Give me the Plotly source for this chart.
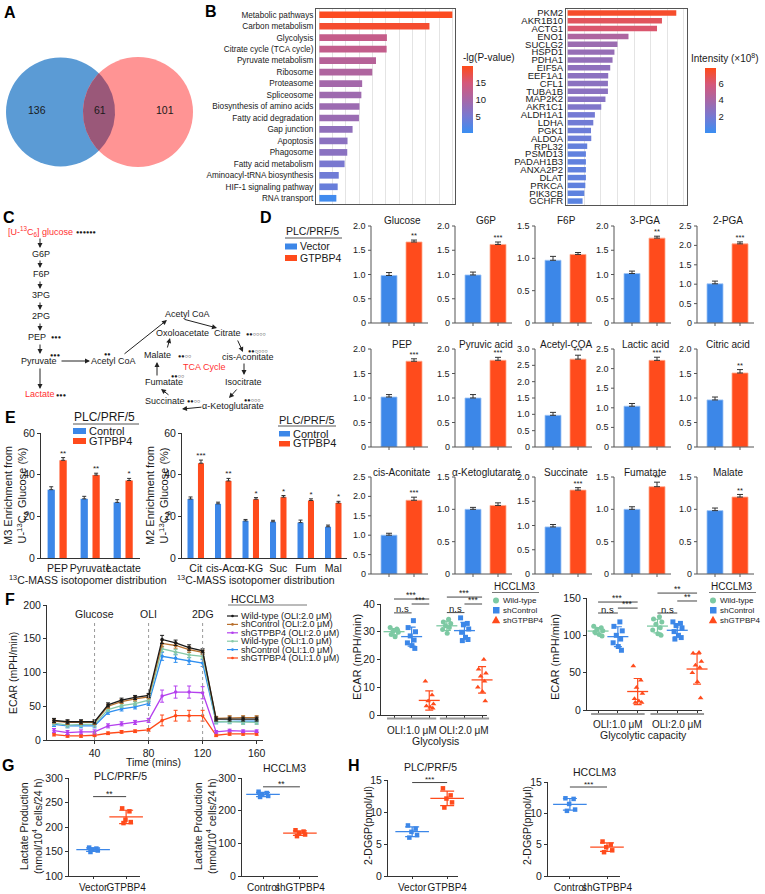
import math
import numpy as np
import plotly.graph_objects as go

W, H = 765, 894
FONT = "Liberation Sans, Arial, Helvetica, sans-serif"
BLUE = "#3c87e8"
RED = "#ff4b1c"
GREEN = "#7dc9a3"
AXC = "#333333"
TXT = "#1a1a1a"

# ---------------- DATA ----------------
venn_counts = [136, 61, 101]  # left only, shared, right only

kegg_terms = ["Metabolic pathways", "Carbon metabolism", "Glycolysis", "Citrate cycle (TCA cycle)",
              "Pyruvate metabolism", "Ribosome", "Proteasome", "Spliceosome",
              "Biosynthesis of amino acids", "Fatty acid degradation", "Gap junction", "Apoptosis",
              "Phagosome", "Fatty acid metabolism", "Aminoacyl-tRNA biosynthesis",
              "HIF-1 signaling pathway", "RNA transport"]
kegg_counts = [50, 41.4, 25.4, 25.3, 21.3, 19.9, 16.1, 15.8, 15.1, 14.9, 12.5, 10.6, 10.5, 9.5, 7.3, 6.9, 6.4]
kegg_lgp = [19.6, 18.8, 13.2, 13.0, 11.6, 10.8, 9.6, 9.0, 8.8, 8.6, 7.6, 7.0, 6.9, 5.2, 4.4, 3.8, 0.6]

prot_genes = ["PKM2", "AKR1B10", "ACTG1", "ENO1", "SUCLG2", "HSPD1", "PDHA1", "EIF5A", "EEF1A1", "CFL1",
              "TUBA1B", "MAP2K2", "AKR1C1", "ALDH1A1", "LDHA", "PGK1", "ALDOA", "RPL32", "PSMD13",
              "PADAH1B3", "ANXA2P2", "DLAT", "PRKCA", "PIK3CB", "GCHFR"]
prot_intensity = [7.50, 6.51, 6.17, 4.20, 3.44, 3.23, 3.10, 2.94, 2.80, 2.78, 2.78, 2.61, 2.32, 1.88, 1.77,
                  1.61, 1.63, 1.35, 1.26, 1.26, 1.26, 1.26, 1.22, 1.15, 1.03]

d_names = ["Glucose", "G6P", "F6P", "3-PGA", "2-PGA", "PEP", "Pyruvic acid", "Acetyl-COA", "Lactic acid",
           "Citric acid", "cis-Aconitate", "α-Ketoglutarate", "Succinate", "Fumatate", "Malate"]
d_vector = [0.98, 0.99, 0.97, 1.02, 1.01, 1.02, 1.00, 0.97, 1.04, 0.96, 1.00, 1.00, 0.97, 1.00, 0.98]
d_vector_sd = [0.06, 0.06, 0.06, 0.05, 0.07, 0.05, 0.07, 0.09, 0.07, 0.06, 0.05, 0.03, 0.05, 0.04, 0.04]
d_gtpbp4 = [1.67, 1.62, 1.06, 1.75, 2.04, 1.75, 1.77, 2.69, 2.21, 1.51, 1.90, 1.06, 1.73, 1.35, 1.19]
d_gtpbp4_sd = [0.04, 0.05, 0.03, 0.04, 0.05, 0.05, 0.06, 0.12, 0.08, 0.07, 0.08, 0.04, 0.05, 0.07, 0.04]
d_sig = ["**", "***", "", "**", "***", "***", "***", "***", "***", "**", "***", "", "***", "**", "**"]
d_ytop = [2.0, 2.0, 1.5, 2.0, 2.5, 2.0, 2.0, 3.0, 2.5, 2.0, 2.5, 1.5, 2.0, 1.5, 1.5]

e_m3_cats = ["PEP", "Pyruvate", "Lactate"]
e_m3_ctrl = [32.8, 28.4, 26.7]
e_m3_ctrl_sd = [1.4, 1.2, 1.3]
e_m3_gtp = [46.9, 39.8, 37.2]
e_m3_gtp_sd = [1.3, 0.9, 1.0]
e_m3_sig = ["**", "**", "*"]
e_m2_cats = ["Cit", "cis-Aco", "α-KG", "Suc", "Fum", "Mal"]
e_m2_ctrl = [28.3, 26.0, 17.8, 17.4, 17.0, 15.0]
e_m2_ctrl_sd = [1.0, 0.8, 0.7, 0.7, 1.2, 0.8]
e_m2_gtp = [45.5, 37.0, 28.2, 29.2, 27.6, 26.4]
e_m2_gtp_sd = [1.5, 1.2, 0.8, 0.8, 0.8, 0.8]
e_m2_sig = ["***", "**", "*", "*", "*", "*"]

f_time = [10, 20, 30, 40, 50, 60, 70, 80, 90, 100, 110, 120, 130, 140, 150, 160]
f_labels = ["Wild-type (OLI:2.0 μM)", "shControl (OLI:2.0 μM)", "shGTPBP4 (OLI:2.0 μM)",
            "Wild-type (OLI:1.0 μM)", "shControl (OLI:1.0 μM)", "shGTPBP4 (OLI:1.0 μM)"]
f_wt2 = [29, 27, 27, 27, 52, 59, 63, 66, 149, 144, 137, 132, 31, 31, 31, 31]
f_wt2_sd = [3, 3, 3, 3, 3, 3, 3, 3, 6, 4, 4, 3, 3, 3, 3, 3]
f_shc2 = [28, 26, 26, 26, 50, 57, 61, 64, 143, 140, 134, 130, 32, 33, 33, 33]
f_shc2_sd = [3, 3, 3, 3, 3, 3, 3, 3, 5, 4, 4, 3, 3, 3, 3, 3]
f_shg2 = [14, 11, 12, 12, 21, 24, 26, 29, 65, 71, 71, 70, 12, 14, 13, 13]
f_shg2_sd = [3, 3, 3, 3, 3, 3, 3, 3, 9, 9, 9, 9, 2, 2, 2, 2]
f_wt1 = [25, 22, 23, 23, 45, 51, 54, 59, 135, 130, 126, 124, 27, 27, 26, 26]
f_wt1_sd = [3, 3, 3, 3, 3, 3, 3, 3, 4, 4, 4, 3, 3, 3, 3, 3]
f_shc1 = [23, 21, 21, 21, 41, 46, 49, 54, 124, 121, 117, 114, 27, 28, 28, 28]
f_shc1_sd = [3, 3, 3, 3, 3, 3, 3, 3, 6, 6, 5, 5, 3, 3, 3, 3]
f_shg1 = [8, 6, 6, 7, 10, 12, 13, 15, 29, 36, 36, 36, 7, 9, 9, 9]
f_shg1_sd = [2, 2, 2, 2, 2, 2, 2, 2, 8, 8, 8, 8, 2, 2, 2, 2]

dot_groups = ["Wild-type", "shControl", "shGTPBP4"]
dot_conditions = ["OLI:1.0 μM", "OLI:2.0 μM"]
gly_wt_1 = [31.5, 31.0, 30.2, 29.8, 29.0, 28.2, 30.5]
gly_shc_1 = [34.0, 31.5, 30.0, 28.5, 27.0, 26.0, 25.0, 24.0]
gly_shg_1 = [12.2, 7.2, 5.0, 4.0, 3.2, 2.8, 2.4]
gly_wt_2 = [34.5, 33.5, 33.0, 32.2, 31.5, 30.8, 29.5]
gly_shc_2 = [35.0, 33.0, 32.5, 31.0, 29.8, 28.0, 27.2, 26.8]
gly_shg_2 = [20.0, 16.5, 15.0, 14.0, 12.2, 10.0, 8.5, 5.0]
cap_wt_1 = [112, 110, 108, 106, 104, 101, 99]
cap_shc_1 = [118, 112, 106, 100, 95, 90, 85, 80]
cap_shg_1 = [59, 40, 30, 22, 15, 12, 10, 10]
cap_wt_2 = [125, 122, 118, 115, 110, 107, 102, 100]
cap_shc_2 = [118, 116, 113, 110, 105, 100, 97, 95]
cap_shg_2 = [77, 76, 65, 60, 57, 50, 38, 16]

g_plc_vector = [158, 156, 154, 152, 149]
g_plc_gtpbp4 = [238, 232, 215, 210, 208]
g_hcc_control = [258, 254, 249, 245, 242]
g_hcc_sh = [140, 136, 131, 127, 122]
h_plc_vector = [7.9, 7.4, 6.9, 6.4, 6.0]
h_plc_gtpbp4 = [13.7, 12.6, 12.1, 11.5, 10.7]
h_hcc_control = [12.4, 12.3, 11.5, 10.6, 10.4]
h_hcc_sh = [5.5, 5.0, 4.6, 4.1, 3.8]

# ---------------- HELPERS ----------------
fig = go.Figure()
LAYOUT, ANN, SHP = {}, [], []


def T(x, y, text, size=9, color=TXT, xa="center", ya="middle", angle=0, bold=False):
    if bold:
        text = f"<b>{text}</b>"
    ANN.append(dict(x=x / W, y=1 - y / H, xref="paper", yref="paper", text=text, showarrow=False,
                    xanchor=xa, yanchor=ya, textangle=angle, borderpad=0,
                    font=dict(size=size, color=color, family=FONT)))


def ARR(x0, y0, x1, y1, w=1.0):
    ANN.append(dict(x=x1 / W, y=1 - y1 / H, xref="paper", yref="paper", ax=x0 - x1, ay=y0 - y1,
                    axref="pixel", ayref="pixel", text="", showarrow=True, arrowhead=2,
                    arrowsize=1, arrowwidth=w, arrowcolor="#222", standoff=0))


def LINE(x0, y0, x1, y1, color=AXC, width=1, dash=None):
    SHP.append(dict(type="line", xref="paper", yref="paper", x0=x0 / W, y0=1 - y0 / H, x1=x1 / W,
                    y1=1 - y1 / H, line=dict(color=color, width=width, dash=dash)))


def RECT(x0, y0, x1, y1, fill):
    SHP.append(dict(type="rect", xref="paper", yref="paper", x0=x0 / W, y0=1 - y1 / H, x1=x1 / W,
                    y1=1 - y0 / H, fillcolor=fill, line=dict(width=0)))


def CIRC(cx, cy, r, fill):
    SHP.append(dict(type="circle", xref="paper", yref="paper", x0=(cx - r) / W, x1=(cx + r) / W,
                    y0=1 - (cy + r) / H, y1=1 - (cy - r) / H, fillcolor=fill, line=dict(width=0)))


def TRI(cx, cy, s, fill):
    path = (f"M {(cx - s) / W},{1 - (cy + s * 0.8) / H} L {(cx + s) / W},{1 - (cy + s * 0.8) / H} "
            f"L {cx / W},{1 - (cy - s) / H} Z")
    SHP.append(dict(type="path", xref="paper", yref="paper", path=path, fillcolor=fill,
                    line=dict(width=0)))


class Ax:
    count = 0

    def __init__(self, x0, x1, y0, y1, xr, yr, xa=None, ya=None):
        Ax.count += 1
        n = Ax.count
        self.x = "x" if n == 1 else f"x{n}"
        self.y = "y" if n == 1 else f"y{n}"
        self.x0, self.x1, self.y0, self.y1 = x0, x1, y0, y1
        self.xr, self.yr = xr, yr
        xd = dict(domain=[x0 / W, x1 / W], anchor=self.y, showgrid=False, zeroline=False,
                  fixedrange=True, automargin=False)
        yd = dict(domain=[1 - y1 / H, 1 - y0 / H], anchor=self.x, showgrid=False, zeroline=False,
                  fixedrange=True, automargin=False)
        if xr is not None:
            xd["range"] = list(xr)
        if yr is not None:
            yd["range"] = list(yr)
        xd.update(xa or {})
        yd.update(ya or {})
        LAYOUT["xaxis" if n == 1 else f"xaxis{n}"] = xd
        LAYOUT["yaxis" if n == 1 else f"yaxis{n}"] = yd

    def X(self, v):
        return self.x0 + (v - self.xr[0]) / (self.xr[1] - self.xr[0]) * (self.x1 - self.x0)

    def Y(self, v):
        return self.y1 - (v - self.yr[0]) / (self.yr[1] - self.yr[0]) * (self.y1 - self.y0)


def tf(size):
    return dict(size=size, color=TXT, family=FONT)


def gp(size=9, **kw):
    out = dict(showline=True, linecolor=AXC, linewidth=1, ticks="outside", ticklen=3, tickwidth=1,
               tickcolor=AXC, tickfont=tf(size), tickangle=0)
    out.update(kw)
    return out


def bracket(ax, xa, xb, yv, text, size=9, color="#444", dy=4):
    x0, x1, y = ax.X(xa), ax.X(xb), ax.Y(yv)
    LINE(x0, y, x1, y, color, 1)
    T((x0 + x1) / 2, y - dy, text, size=size)


# ---------------- PANEL A : Venn ----------------
axA = Ax(0, 200, 10, 210, [0, 200], [0, 200], xa=dict(visible=False), ya=dict(visible=False))
cb = (60.5, 98.0, 54.5)
cr = (138.0, 98.0, 55.0)
for (cx, cy, rr), col in [(cb, "#5b9bd5"), (cr, "#ff9494")]:
    SHP.append(dict(type="circle", xref=axA.x, yref=axA.y, x0=cx - rr, x1=cx + rr, y0=cy - rr, y1=cy + rr,
                    fillcolor=col, line=dict(width=0), layer="below"))
dd = cr[0] - cb[0]
aa = (cb[2] ** 2 - cr[2] ** 2 + dd ** 2) / (2 * dd)
hh = math.sqrt(cb[2] ** 2 - aa ** 2)
t1 = math.atan2(hh, aa)
t2 = math.atan2(hh, dd - aa)
th1 = np.linspace(-t1, t1, 60)
th2 = np.linspace(math.pi - t2, math.pi + t2, 60)
lx = np.concatenate([cb[0] + cb[2] * np.cos(th1), cr[0] + cr[2] * np.cos(th2)])
ly = np.concatenate([cb[1] + cb[2] * np.sin(th1), cr[1] + cr[2] * np.sin(th2)])
fig.add_trace(go.Scatter(x=lx, y=ly, fill="toself", fillcolor="#9a5879", mode="lines",
                         line=dict(width=0), xaxis=axA.x, yaxis=axA.y, hoverinfo="skip"))
for (px, py), v in zip([(37, 110), (100, 110), (165, 110)], venn_counts):
    T(px, py, str(v), size=10.5)

# ---------------- PANEL B ----------------
CS = [[0, "#3a8ef2"], [0.25, "#7779d2"], [0.5, "#a867a6"], [0.75, "#d5587a"], [1, "#ff4a18"]]
boxax = dict(showline=True, mirror=True, linecolor="#555", linewidth=1, ticks="")
axB1 = Ax(316, 455, 9, 204, [-1.25, 51], None,
          xa=dict(boxax, showgrid=True, gridcolor="#e4e4e4", gridwidth=1, tick0=0, dtick=5,
                  showticklabels=False),
          ya=dict(boxax, type="category", categoryorder="array", categoryarray=kegg_terms, dtick=1,
                  autorange="reversed", tickfont=tf(8.2)))
fig.add_trace(go.Bar(x=kegg_counts, y=kegg_terms, orientation="h", width=0.58,
                     marker=dict(color=kegg_lgp, colorscale=CS, cmin=0, cmax=20, showscale=True,
                                 line=dict(width=0),
                                 colorbar=dict(x=462 / W, xanchor="left", y=1 - 99.5 / H, yanchor="middle",
                                               len=67 / H, thickness=11, outlinewidth=0,
                                               tickvals=[5, 10, 15], ticks="", xpad=0, ypad=0,
                                               tickfont=tf(9.5))),
                     xaxis=axB1.x, yaxis=axB1.y, hoverinfo="skip"))
T(462, 58, "-lg(P-value)", size=10, xa="left")

axB2 = Ax(566, 687, 9, 205, [-0.115, 8.24], None,
          xa=dict(boxax, showgrid=True, gridcolor="#e4e4e4", gridwidth=1, tick0=0, dtick=1.147,
                  showticklabels=False),
          ya=dict(boxax, type="category", categoryorder="array", categoryarray=prot_genes, dtick=1,
                  autorange="reversed", tickfont=tf(9.5)))
fig.add_trace(go.Bar(x=prot_intensity, y=prot_genes, orientation="h", width=0.7,
                     marker=dict(color=prot_intensity, colorscale=CS, cmin=0, cmax=7.9, showscale=True,
                                 line=dict(width=0),
                                 colorbar=dict(x=705 / W, xanchor="left", y=1 - 100.5 / H, yanchor="middle",
                                               len=65 / H, thickness=11, outlinewidth=0,
                                               tickvals=[2, 4, 6], ticks="", xpad=0, ypad=0,
                                               tickfont=tf(9.5))),
                     xaxis=axB2.x, yaxis=axB2.y, hoverinfo="skip"))
T(690, 58, "Intensity (×10<sup>8</sup>)", size=10, xa="left")

# ---------------- PANEL C : pathway ----------------
CRED = "#ff3030"
T(7, 231, "[U-<sup>13</sup>C<sub>6</sub>] glucose", 9, CRED, xa="left")
T(75, 232, "●●●●●●", 5.5, xa="left")
for lbl, yy in [("G6P", 254), ("F6P", 274), ("3PG", 295), ("2PG", 316)]:
    T(41, yy, lbl, 9)
T(37, 337, "PEP", 9)
T(50, 337, "●●●", 5.5, xa="left")
T(39, 361, "Pyruvate", 9)
T(55, 355, "●●●", 5.5)
T(113, 361, "Acetyl CoA", 9)
T(107, 354, "●●", 5.5)
T(187, 314, "Acetyl CoA", 9)
T(182, 333, "Oxoloacetate", 9)
T(227, 333, "Citrate", 9)
T(245, 334, "●●○○○○", 5.5, xa="left")
T(248, 357, "cis-Aconitate", 9)
T(258, 351, "●●○○○○", 5.5)
T(244, 382, "Isocitrate", 9)
T(204, 367, "TCA Cycle", 9, CRED)
T(157, 355, "Malate", 9)
T(177, 356, "●●○○", 5.5, xa="left")
T(164, 382, "Fumatate", 9)
T(177, 376, "●●○○", 5.5)
T(40, 394, "Lactate", 9, CRED)
T(55, 395, "●●●", 5.5, xa="left")
T(165, 401, "Succinate", 9)
T(186, 401, "●●○○", 5.5, xa="left")
T(233, 406, "α-Ketoglutarate", 9)
T(252, 400, "●●○○○", 5.5)
for y0, y1 in [(237, 248), (259, 268), (280, 289), (301, 310), (322, 331), (343, 354), (367, 389)]:
    ARR(40, y0, 40, y1)
ARR(60, 361, 90, 361)
ARR(123, 355, 167, 320)
ARR(183, 319, 217, 328)
ARR(237, 339, 243, 352)
ARR(244, 362, 244, 375)
ARR(238, 388, 229, 398)
ARR(203, 407, 182, 409)
ARR(170, 396, 161, 389)
ARR(157, 377, 157, 362)
ARR(167, 349, 170, 338)

# ---------------- PANEL D ----------------
col_x = [371, 455, 535, 614, 697]
rows = [(226, 323), (349, 447), (477, 574)]
DW = 57
for i, name in enumerate(d_names):
    ri, ci = divmod(i, 5)
    x0 = col_x[ci]
    top, bot = rows[ri]
    ymax = d_ytop[i]
    axd = Ax(x0, x0 + DW, top, bot, [-0.72, 1.56], [0, ymax],
             xa=dict(visible=False), ya=dict(visible=False))
    fig.add_trace(go.Bar(x=[0, 1], y=[d_vector[i], d_gtpbp4[i]], width=0.64,
                         marker=dict(color=[BLUE, RED], line=dict(width=0.8, color=["#9cc3f5", "#ffa88c"])),
                         error_y=dict(type="data", array=[d_vector_sd[i], d_gtpbp4_sd[i]],
                                      arrayminus=[0, 0], symmetric=False, color=AXC, thickness=1, width=3),
                         xaxis=axd.x, yaxis=axd.y, hoverinfo="skip"))
    if d_sig[i]:
        fig.add_trace(go.Scatter(x=[1], y=[d_gtpbp4[i] + d_gtpbp4_sd[i]], mode="text", text=[d_sig[i]],
                                 textposition="top center", textfont=tf(7.5), cliponaxis=False,
                                 xaxis=axd.x, yaxis=axd.y, hoverinfo="skip"))
    # axis frame drawn from the same data ranges
    LINE(x0, axd.Y(ymax), x0, bot, "#555", 1)
    LINE(x0, bot, x0 + DW, bot, "#555", 1)
    nt = int(round(ymax / 0.5))
    for k in range(nt + 1):
        v = k * 0.5
        yy = axd.Y(v)
        LINE(x0 - 3, yy, x0, yy, "#555", 1)
        T(x0 - 4, yy, "0" if k == 0 else f"{v:.1f}", 9, xa="right")
    for xv in (0, 1):
        LINE(axd.X(xv), bot, axd.X(xv), bot + 3, "#555", 1)
    T(x0 + 31, top - 5, name, 10)

T(285, 231, "PLC/PRF/5", 10.5, xa="left")
LINE(285, 238, 342, 238, "#555", 1)
RECT(285, 243.5, 297, 249.5, BLUE)
T(299, 246.5, "Vector", 10.5, xa="left")
RECT(285, 255, 297, 261, RED)
T(299, 258, "GTPBP4", 10.5, xa="left")

# ---------------- PANEL E ----------------
def ebars(ax, cats, c, csd, g, gsd, sig, w, oc, og):
    xs = list(range(len(cats)))
    for vals, sds, col, off in [(c, csd, BLUE, oc), (g, gsd, RED, og)]:
        fig.add_trace(go.Bar(x=xs, y=vals, width=w, offset=off, marker=dict(color=col, line=dict(width=0)),
                             error_y=dict(type="data", array=sds, arrayminus=[0] * len(sds),
                                          symmetric=False, color=AXC, thickness=1, width=2),
                             xaxis=ax.x, yaxis=ax.y, hoverinfo="skip"))
    fig.add_trace(go.Scatter(x=[x + og + w / 2 for x in xs], y=[v + s for v, s in zip(g, gsd)],
                             mode="text", text=sig, textposition="top center", textfont=tf(8),
                             cliponaxis=False, xaxis=ax.x, yaxis=ax.y, hoverinfo="skip"))


axE1 = Ax(41, 140, 433, 558, [-0.5, 2.5], [0, 60],
          xa=gp(10.5, ticks="", tickvals=[0, 1, 2], ticktext=e_m3_cats),
          ya=gp(10.5, tickvals=[0, 20, 40, 60]))
ebars(axE1, e_m3_cats, e_m3_ctrl, e_m3_ctrl_sd, e_m3_gtp, e_m3_gtp_sd, e_m3_sig, 0.22, -0.3, 0.06)
axE2 = Ax(182, 347, 433, 558, [-0.5, 5.5], [0, 60],
          xa=gp(10.5, ticks="", tickvals=list(range(6)), ticktext=e_m2_cats),
          ya=gp(10.5, tickvals=[0, 20, 40, 60]))
ebars(axE2, e_m2_cats, e_m2_ctrl, e_m2_ctrl_sd, e_m2_gtp, e_m2_gtp_sd, e_m2_sig, 0.22, -0.3, 0.08)

T(16, 496, "M3 Enrichment from<br>U-<sup>13</sup>C<sub>6</sub> Glucose (%)", 11, angle=-90)
T(158, 496, "M2 Enrichment from<br>U-<sup>13</sup>C<sub>6</sub> Glucose (%)", 11, angle=-90)
T(88, 579, "<sup>13</sup>C-MASS isotopomer distribution", 10.5)
T(256, 579, "<sup>13</sup>C-MASS isotopomer distribution", 10.5)

T(73, 417, "PLC/PRF/5", 12, xa="left")
LINE(73, 424, 139, 424, "#555", 1)
RECT(73, 428, 86, 434, BLUE)
T(88, 431, "Control", 11, xa="left")
RECT(73, 438, 86, 444, RED)
T(88, 441, "GTPBP4", 11, xa="left")

T(278, 420, "PLC/PRF/5", 11, xa="left")
LINE(278, 426, 336, 426, "#555", 1)
RECT(279, 431, 290, 436.5, BLUE)
T(292, 433.5, "Control", 11, xa="left")
RECT(279, 441, 290, 446.5, RED)
T(292, 443.5, "GTPBP4", 11, xa="left")

# ---------------- PANEL F ----------------
axF1 = Ax(47, 263, 605, 740, [4.8, 164.7], [0, 200],
          xa=gp(10.5, tickvals=[40, 80, 120, 160]),
          ya=gp(10.5, tickvals=[0, 50, 100, 150, 200]))
f_series = [(f_wt2, f_wt2_sd), (f_shc2, f_shc2_sd), (f_shg2, f_shg2_sd),
            (f_wt1, f_wt1_sd), (f_shc1, f_shc1_sd), (f_shg1, f_shg1_sd)]
f_colors = ["#1a1a1a", "#b8702e", "#b440ee", "#86c9a8", "#2f8ff0", "#ff4a1a"]
for k in [5, 4, 3, 2, 1, 0]:
    vals, sds = f_series[k]
    fig.add_trace(go.Scatter(x=f_time, y=vals, mode="lines+markers", name=f_labels[k],
                             line=dict(color=f_colors[k], width=1.3), marker=dict(size=3.5, color=f_colors[k]),
                             error_y=dict(type="data", array=sds, color=f_colors[k], thickness=1, width=2),
                             xaxis=axF1.x, yaxis=axF1.y, hoverinfo="skip"))
for tx, lbl in [(40, "Glucose"), (80, "OLI"), (120, "2DG")]:
    SHP.append(dict(type="line", xref=axF1.x, yref=axF1.y, x0=tx, x1=tx, y0=0, y1=178,
                    line=dict(color="#999", width=1, dash="dot")))
    T(axF1.X(tx), 614, lbl, 10.5)
T(13, 673, "ECAR (mPH/min)", 10.5, angle=-90)
T(153, 762, "Time (mins)", 10.5)

T(230, 599, "HCCLM3", 10.5, xa="left")
LINE(228, 605, 307, 605, "#777", 1)
for k in range(6):
    yy = 616 + k * 8.4
    LINE(227, yy, 238, yy, f_colors[k], 1.2)
    CIRC(232.5, yy, 1.3, f_colors[k])
    T(240, yy, f_labels[k], 9, xa="left")

JIT_A = [-0.22, 0.16, -0.06, 0.24, -0.16, 0.06, 0.2, -0.12]
JIT_B = [0.1, -0.2, 0.22, -0.08, 0.14, -0.24, 0.02, 0.18]
DOT_COLORS = [GREEN, BLUE, RED]
DOT_SYMS = ["circle", "square", "triangle-up"]


def dotplot(ax, groups, msize=5, mean_w=15, cap=4):
    for gi, vals in enumerate(groups):
        col = DOT_COLORS[gi % 3]
        sym = DOT_SYMS[gi % 3]
        jit = JIT_A if gi % 2 == 0 else JIT_B
        xs = [gi + jit[j] for j in range(len(vals))]
        fig.add_trace(go.Scatter(x=xs, y=vals, mode="markers",
                                 marker=dict(symbol=sym, size=msize, color=col, line=dict(width=0)),
                                 xaxis=ax.x, yaxis=ax.y, hoverinfo="skip", cliponaxis=False))
        m = float(np.mean(vals))
        s = float(np.std(vals, ddof=1))
        fig.add_trace(go.Scatter(x=[gi], y=[m], mode="markers",
                                 marker=dict(symbol="line-ew", size=mean_w, line=dict(width=1.3, color=col)),
                                 error_y=dict(type="data", array=[s], color=col, thickness=1.2, width=cap),
                                 xaxis=ax.x, yaxis=ax.y, hoverinfo="skip", cliponaxis=False))


axF2 = Ax(381, 487, 604, 715, [-0.74, 5.28], [0, 40],
          xa=gp(10, tickvals=list(range(6)), showticklabels=False),
          ya=gp(10.5, tickvals=[0, 10, 20, 30, 40]))
dotplot(axF2, [gly_wt_1, gly_shc_1, gly_shg_1, gly_wt_2, gly_shc_2, gly_shg_2])
for a_, b_, yv, t in [(0, 2, 41.8, "***"), (0, 1, 36.8, "n.s"), (1, 2, 40.0, "***"),
                      (3, 5, 42.5, "***"), (3, 4, 36.9, "n.s"), (4, 5, 40.0, "***")]:
    bracket(axF2, a_, b_, yv, t, 8.5 if t != "n.s" else 9.5)
for ci, cond in enumerate(dot_conditions):
    LINE(axF2.X(ci * 3) - 7, 718.5, axF2.X(ci * 3 + 2) + 7, 718.5, "#999", 2)
    T(axF2.X(ci * 3 + 1), 730, cond, 10)
T(435, 741, "Glycolysis", 10.5)
T(357, 657, "ECAR (mPH/min)", 11, angle=-90)

axF3 = Ax(587, 702, 598, 710, [-0.56, 5.25], [0, 150],
          xa=gp(10, tickvals=list(range(6)), showticklabels=False),
          ya=gp(10.5, tickvals=[0, 50, 100, 150]))
dotplot(axF3, [cap_wt_1, cap_shc_1, cap_shg_1, cap_wt_2, cap_shc_2, cap_shg_2])
for a_, b_, yv, t in [(0, 2, 144.6, "***"), (0, 1, 129.9, "n.s"), (1, 2, 136.5, "***"),
                      (3, 5, 156.6, "**"), (3, 4, 129.9, "n.s"), (4, 5, 146.0, "**")]:
    bracket(axF3, a_, b_, yv, t, 8.5 if t != "n.s" else 9.5)
for ci, cond in enumerate(dot_conditions):
    LINE(axF3.X(ci * 3) - 7, 714, axF3.X(ci * 3 + 2) + 7, 714, "#999", 2)
    T(axF3.X(ci * 3 + 1), 724, cond, 10)
T(643, 735, "Glycolytic capacity", 10.5)
T(555, 657, "ECAR (mPH/min)", 11, angle=-90)

for lx0, ly0 in [(493, 586), (710, 586)]:
    T(lx0, ly0, "HCCLM3", 10, xa="left")
    LINE(lx0 - 1, 592.5, lx0 + 46, 592.5, "#777", 1)
    CIRC(lx0 + 3, 600.5, 3, GREEN)
    RECT(lx0, 607, lx0 + 6.5, 613.5, BLUE)
    TRI(lx0 + 3, 620, 4.2, RED)
    for k, g in enumerate(dot_groups):
        T(lx0 + 9, 600.5 + k * 9.8, g, 8, xa="left")

# ---------------- PANELS G / H ----------------
def twogroup(ax, g1, g2, c1, c2, jit=(-0.12, 0.1, -0.02, 0.14, -0.08), mean_w=24, cap=7):
    for gi, (vals, col) in enumerate([(g1, c1), (g2, c2)]):
        xs = [gi + jit[j % len(jit)] for j in range(len(vals))]
        fig.add_trace(go.Scatter(x=xs, y=vals, mode="markers",
                                 marker=dict(symbol="square", size=4.5, color=col),
                                 xaxis=ax.x, yaxis=ax.y, hoverinfo="skip", cliponaxis=False))
        m = float(np.mean(vals))
        s = float(np.std(vals, ddof=1))
        fig.add_trace(go.Scatter(x=[gi], y=[m], mode="markers",
                                 marker=dict(symbol="line-ew", size=mean_w, line=dict(width=1.3, color=col)),
                                 error_y=dict(type="data", array=[s], color=col, thickness=1.2, width=cap),
                                 xaxis=ax.x, yaxis=ax.y, hoverinfo="skip", cliponaxis=False))


GX = dict(ticklen=2)
axG1 = Ax(69, 140, 778, 876, [-0.73, 1.42], [100, 300],
          xa=gp(10, tickvals=[0, 1], ticktext=["Vector", "GTPBP4"], **GX),
          ya=gp(10.5, tickvals=[100, 150, 200, 250, 300]))
twogroup(axG1, g_plc_vector, g_plc_gtpbp4, BLUE, RED)
bracket(axG1, 0, 1, 262, "**", 8.5, dy=3)
T(120, 776, "PLC/PRF/5", 10.5)

axG2 = Ax(242, 318, 778, 876, [-0.57, 1.49], [0, 300],
          xa=gp(10, tickvals=[0, 1], ticktext=["Control", "shGTPBP4"], **GX),
          ya=gp(10.5, tickvals=[0, 100, 200, 300]))
twogroup(axG2, g_hcc_control, g_hcc_sh, BLUE, RED)
bracket(axG2, 0, 1, 273, "**", 8.5, dy=3)
T(284, 768, "HCCLM3", 10.5)

T(31, 826, "Lactate Production<br>(nmol/10<sup>4</sup> cells/24 h)", 10.5, angle=-90)
T(205, 826, "Lactate Production<br>(nmol/10<sup>4</sup> cells/24 h)", 10.5, angle=-90)

axH1 = Ax(388, 458, 780, 876, [-0.69, 1.31], [0, 15],
          xa=gp(10, tickvals=[0, 1], ticktext=["Vector", "GTPBP4"], **GX),
          ya=gp(10.5, tickvals=[0, 5, 10, 15]))
twogroup(axH1, h_plc_vector, h_plc_gtpbp4, BLUE, RED)
bracket(axH1, 0, 1, 14.6, "***", 8, dy=3)
T(430, 767, "PLC/PRF/5", 10.5)
T(368, 826, "2-DG6P(pmol/μl)", 10.5, angle=-90)

axH2 = Ax(548, 620, 782, 876, [-0.59, 1.35], [0, 15],
          xa=gp(10, tickvals=[0, 1], ticktext=["Control", "shGTPBP4"], **GX),
          ya=gp(10.5, tickvals=[0, 5, 10, 15]))
twogroup(axH2, h_hcc_control, h_hcc_sh, BLUE, RED)
bracket(axH2, 0, 1, 14.2, "***", 8, dy=3)
T(594, 772, "HCCLM3", 10.5)
T(527, 826, "2-DG6P(pmol/μl)", 10.5, angle=-90)

# ---------------- PANEL LETTERS ----------------
for lt, x, y in [("A", 10, 13), ("B", 211, 12), ("C", 9, 217), ("D", 266, 217), ("E", 10, 418),
                 ("F", 10, 599), ("G", 8, 765), ("H", 354, 765)]:
    T(x, y, lt, 16, "#000", bold=True)

fig.update_layout(template="none", width=W, height=H, margin=dict(l=0, r=0, t=0, b=0, pad=0),
                  paper_bgcolor="white", plot_bgcolor="rgba(0,0,0,0)", showlegend=False, barmode="group",
                  font=dict(family=FONT, size=9, color=TXT), annotations=ANN, shapes=SHP)
fig.update_layout(LAYOUT)
# remove the default 8px page margin so the figure sits at the window origin; hide the modebar
fig.write_html("out.html", config={"displayModeBar": False, "staticPlot": True},
               post_script="document.body.style.margin='0px';")
